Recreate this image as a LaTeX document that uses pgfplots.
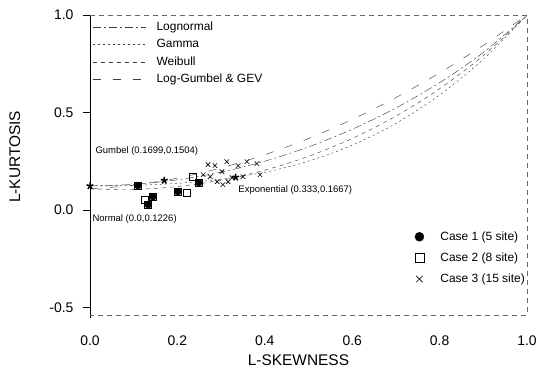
\documentclass[border=0pt]{standalone}
\usepackage{fontspec}
\setmainfont{Liberation Sans}
\usepackage{pgfplots}
\pgfplotsset{compat=1.18}
\pgfplotsset{base/.style={
  scale only axis, width=437bp, height=300bp,
  xmin=0, xmax=1, ymin=-0.54, ymax=1.0,
  axis line style={draw=none}, clip=false}}
\begin{document}
\begin{tikzpicture}
\begin{axis}[base, name=ax,
  xtick={0,0.2,0.4,0.6,0.8,1.0},
  xticklabels={0.0,0.2,0.4,0.6,0.8,1.0},
  ytick={-0.5,0,0.5,1.0},
  yticklabels={-0.5,0.0,0.5,1.0},
  tick pos=left, tick align=outside, major tick length=7bp,
  x tick style={draw=none},
  y tick style={black, line width=0.5pt},
  xticklabel style={font=\fontsize{14}{16}\selectfont, yshift=-10bp},
  yticklabel style={font=\fontsize{14}{16}\selectfont, xshift=-6bp},
  xlabel={L-SKEWNESS}, ylabel={L-KURTOSIS},
  xlabel style={font=\fontsize{15.5}{18}\selectfont, at={(axis description cs:0.477,-0.15)}, anchor=center},
  ylabel style={font=\fontsize{15.5}{18}\selectfont, at={(axis description cs:-0.172,0.527)}, anchor=center},
  legend style={draw=none, fill=none, at={(axis description cs:0.005,0.985)}, anchor=north west,
    font=\fontsize{12}{14}\selectfont, row sep=3.5bp, column sep=0bp, inner sep=0pt},
  legend cell align=left,
  legend image code/.code={\path[draw=none,fill=none] (0bp,0bp) -- (62bp,0bp); \draw[#1] (0bp,0bp) -- (53bp,0bp);},
]
% Lognormal
\addplot[black!75, line width=0.45pt, dash pattern=on 8bp off 3bp on 2bp off 3bp, smooth] coordinates {
(0.0,0.1228) (0.1,0.1306) (0.2,0.1540) (0.3,0.1935) (0.4,0.2495) (0.5,0.3226)
(0.6,0.4134) (0.7,0.5226) (0.8,0.6526) (0.9,0.8077) (1.0,0.9981)};
\addlegendentry{Lognormal}
% Gamma
\addplot[black!75, line width=0.45pt, dash pattern=on 2bp off 3bp, smooth] coordinates {
(0.0,0.1224) (0.1,0.1255) (0.2,0.1359) (0.3,0.1569) (0.4,0.1929) (0.5,0.2494)
(0.6,0.3314) (0.7,0.4435) (0.8,0.5894) (0.9,0.7728) (1.0,1.0)};
\addlegendentry{Gamma}
% Weibull
\addplot[black!75, line width=0.45pt, dash pattern=on 4bp off 4bp, smooth] coordinates {
(0.0,0.1070) (0.1,0.1045) (0.2,0.1193) (0.3,0.1521) (0.4,0.2034) (0.5,0.2743)
(0.6,0.3661) (0.7,0.4808) (0.8,0.6214) (0.9,0.7916) (1.0,0.9964)};
\addlegendentry{Weibull}
% Log-Gumbel & GEV
\addplot[black!75, line width=0.45pt, dash pattern=on 8bp off 12bp, smooth] coordinates {
(0.0,0.1070) (0.1,0.1265) (0.2,0.1626) (0.3,0.2148) (0.4,0.2827) (0.5,0.3659)
(0.6,0.4638) (0.7,0.5762) (0.8,0.7030) (0.9,0.8443) (1.0,1.0)};
\addlegendentry{Log-Gumbel \& GEV}
% theoretical points
\addplot[only marks, mark=star, mark size=3.6bp, mark options={line width=1.5pt, black}, forget plot]
 coordinates {(0,0.1226) (0.1699,0.1504) (0.3333,0.1667)};
\node[anchor=west, font=\fontsize{9.5}{11}\selectfont, inner sep=1bp] at (axis cs:0.01,0.30) {Gumbel (0.1699,0.1504)};
\node[anchor=west, font=\fontsize{9.5}{11}\selectfont, inner sep=1bp] at (axis cs:0.003,-0.05) {Normal (0.0,0.1226)};
\node[anchor=west, font=\fontsize{9.5}{11}\selectfont, inner sep=1bp] at (axis cs:0.337,0.10) {Exponential (0.333,0.1667)};
% frame
\draw[black, line width=0.7pt] (rel axis cs:0,-0.01) -- (rel axis cs:0,1);
\draw[black!60, line width=0.4pt, dash pattern=on 5bp off 4bp] (rel axis cs:0,1) -- (rel axis cs:1,1) -- (rel axis cs:1,0) -- (rel axis cs:0,0);
\end{axis}
\begin{axis}[base, hide axis,
  legend style={draw=none, fill=none, at={(axis description cs:0.742,0.285)}, anchor=north west,
    font=\fontsize{12}{14}\selectfont, row sep=7bp, column sep=0bp, inner sep=0pt},
  legend cell align=left,
  legend image code/.code={\path[draw=none,fill=none] (-5bp,0bp) -- (19bp,0bp); \draw[#1] plot coordinates {(0bp,0bp)};},
]
\addplot[only marks, mark=square, mark size=3.6bp, mark options={black, line width=0.6pt}, forget plot] coordinates {
(0.110,0.124) (0.126,0.052) (0.133,0.026) (0.144,0.067) (0.201,0.093) (0.222,0.088) (0.236,0.170) (0.249,0.139)};
\addplot[only marks, mark=*, mark size=3.4bp, mark options={black, fill=black}, forget plot] coordinates {
(0.110,0.124) (0.133,0.026) (0.144,0.067) (0.201,0.093) (0.249,0.139)};
\addlegendimage{only marks, mark=*, mark size=4.5bp, mark options={black, fill=black}}
\addlegendentry{Case 1 (5 site)}
\addlegendimage{only marks, mark=square, mark size=4.5bp, mark options={black, line width=0.6pt}}
\addlegendentry{Case 2 (8 site)}
\addplot[only marks, mark=x, mark size=3.2bp, mark options={black, line width=0.6pt}, forget plot] coordinates {
(0.270,0.232) (0.286,0.227) (0.313,0.247) (0.339,0.227) (0.359,0.247) (0.382,0.237) (0.389,0.180)
(0.302,0.196) (0.275,0.170) (0.291,0.144) (0.304,0.129) (0.316,0.144) (0.325,0.165) (0.259,0.180) (0.350,0.170)};
\addlegendimage{only marks, mark=x, mark size=4.5bp, mark options={black, line width=0.6pt}}
\addlegendentry{Case 3 (15 site)}
\end{axis}
\pgfresetboundingbox
\path ([shift={(-90bp,-57bp)}]ax.south west) rectangle ([shift={(11bp,15bp)}]ax.north east);
\end{tikzpicture}
\end{document}
